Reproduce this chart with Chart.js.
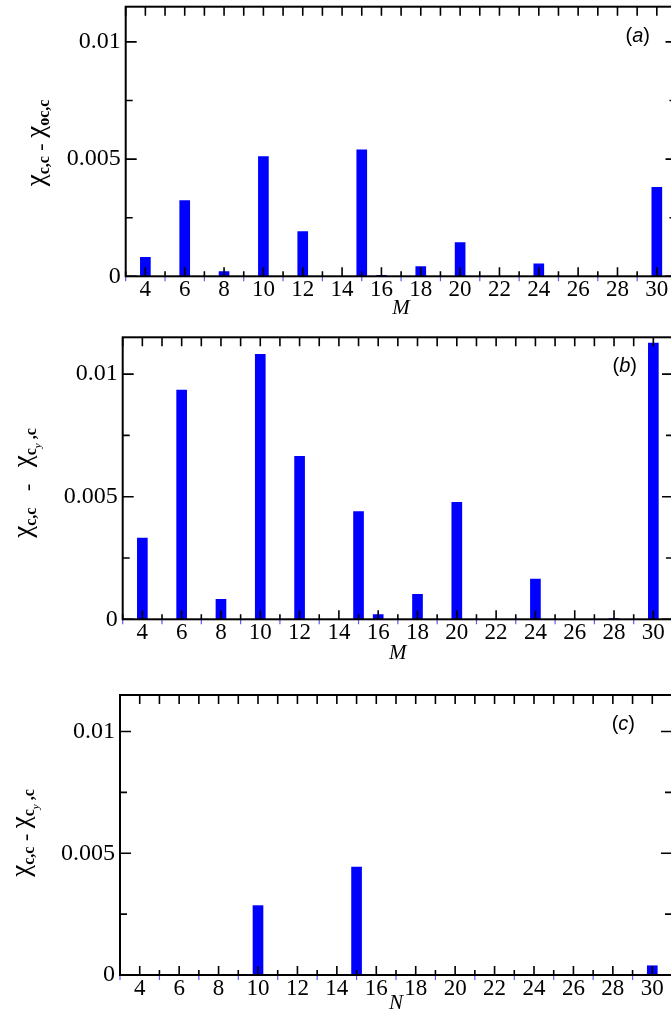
<!DOCTYPE html>
<html>
<head>
<meta charset="utf-8">
<script src="https://cdn.jsdelivr.net/npm/chart.js@4.4.0/dist/chart.umd.min.js"></script>
<style>
    body { margin: 0; background: #fff; overflow: hidden; width: 671px; height: 1021px; position: relative; }
    canvas { position: absolute; left: 0; }
</style>
</head>
<body>
<canvas id="chartA" width="700" height="320" style="top:0px"></canvas>
<canvas id="chartB" width="700" height="345" style="top:320px"></canvas>
<canvas id="chartC" width="700" height="350" style="top:665px"></canvas>
<script>
// system sizes M (and N for the last panel)
var sizes = [4, 6, 8, 10, 12, 15, 16, 18, 20, 22, 24, 26, 28, 30];
var xTicks = [4, 6, 8, 10, 12, 14, 16, 18, 20, 22, 24, 26, 28, 30];
var yTicks = [0, 0.005, 0.01];
var yMinorTicks = [0.0025, 0.0075];

var diffA = [0.00081, 0.00323, 0.0002, 0.00511, 0.00191, 0.0054, 0.00004, 0.00041, 0.00144, 0, 0.00053, 0, 0, 0.00379];
var diffB = [0.00331, 0.00935, 0.00081, 0.01081, 0.00665, 0.00439, 0.00019, 0.00102, 0.00477, 0, 0.00164, 0, 0.00003, 0.01126];
var diffC = [0, 0, 0, 0.00285, 0, 0.00443, 0, 0, 0, 0, 0, 0, 0, 0.00038];

var serif = '"Liberation Serif", "Times New Roman", serif';
var sans = '"Liberation Sans", Arial, sans-serif';

function textWidth(ctx, parts){
    let w = 0;
    parts.forEach(function(p){
        ctx.font = p.font;
        w += ctx.measureText(p.text).width;
    });
    return w;
}

function drawParts(ctx, parts, x, y){
    let cx = x;
    parts.forEach(function(p){
        ctx.font = p.font;
        ctx.fillText(p.text, cx, y + (p.dy || 0));
        cx += ctx.measureText(p.text).width;
    });
}

// frame, inward ticks, rotated y title and the panel letter
var decorations = {
    id: 'decorations',
    afterDatasetsDraw: function(chart, args, opts){
        var ctx = chart.ctx;
        var area = chart.chartArea;
        var xs = chart.scales.x;
        var ys = chart.scales.y;
        ctx.save();

        ctx.strokeStyle = '#000';
        ctx.lineWidth = 1.6;
        ctx.beginPath();
        for(let v = 3; v <= 31; v++){
            let px = xs.getPixelForValue(v);
            let major = v % 2 === 0;
            ctx.moveTo(px, area.bottom);
            ctx.lineTo(px, area.bottom - (major ? 9 : 5));
            ctx.moveTo(px, area.top);
            ctx.lineTo(px, area.top + 9);
        }
        yTicks.concat(yMinorTicks).forEach(function(v){
            let py = ys.getPixelForValue(v);
            let len = yTicks.indexOf(v) >= 0 ? 11 : 7;
            ctx.moveTo(area.left, py);
            ctx.lineTo(area.left + len, py);
            ctx.moveTo(area.right, py);
            ctx.lineTo(area.right - len, py);
        });
        ctx.stroke();

        ctx.strokeStyle = '#5a5aff';
        ctx.lineWidth = 1.2;
        ctx.beginPath();
        for(let v = 3; v <= 31; v += 2){
            let px = xs.getPixelForValue(v);
            ctx.moveTo(px, area.bottom);
            ctx.lineTo(px, area.bottom + 5);
        }
        ctx.stroke();

        ctx.strokeStyle = '#000';
        ctx.lineWidth = 2;
        ctx.strokeRect(area.left, area.top, area.right - area.left, area.bottom - area.top);

        ctx.fillStyle = '#000';
        ctx.textBaseline = 'alphabetic';
        ctx.textAlign = 'left';

        ctx.save();
        ctx.translate(opts.titleX, opts.titleY);
        ctx.rotate(-Math.PI / 2);
        drawParts(ctx, opts.title, -textWidth(ctx, opts.title) / 2, 0);
        ctx.restore();

        ctx.textBaseline = 'middle';
        drawParts(ctx, opts.tag, opts.tagX - textWidth(ctx, opts.tag), opts.tagY);

        ctx.restore();
    }
};

function chi(sub, gap){
    var parts = [
        {text: 'χ', font: '27px ' + serif},
        {text: 'c,c', font: 'bold 16px ' + serif, dy: 5},
        {text: gap + '-' + gap, font: '22px ' + serif, dy: 3},
        {text: 'χ', font: '27px ' + serif}
    ];
    return parts.concat(sub);
}

function tag(letter){
    return [
        {text: '(', font: '20px ' + sans},
        {text: letter, font: 'italic 20px ' + sans},
        {text: ')', font: '20px ' + sans}
    ];
}

function makePanel(id, values, axisName, box, deco){
    new Chart(document.getElementById(id), {
        type: 'bar',
        data: {
            datasets: [{
                data: sizes.map(function(m, i){ return {x: m, y: values[i]}; }),
                backgroundColor: '#0000ff',
                borderWidth: 0,
                barThickness: 10
            }]
        },
        plugins: [decorations],
        options: {
            responsive: false,
            animation: false,
            layout: {
                padding: {top: box.top, left: 0, right: box.right, bottom: 0}
            },
            plugins: {
                legend: {display: false},
                tooltip: {enabled: false},
                decorations: deco
            },
            scales: {
                x: {
                    type: 'linear',
                    min: 3,
                    max: 31,
                    offset: false,
                    grid: {display: false, drawTicks: false},
                    border: {display: false},
                    afterBuildTicks: function(s){ s.ticks = xTicks.map(function(v){ return {value: v}; }); },
                    afterFit: function(s){
                        s.height = box.xHeight;
                        s.paddingLeft = 0;
                        s.paddingRight = 0;
                    },
                    ticks: {
                        color: '#000',
                        padding: 0,
                        maxRotation: 0,
                        autoSkip: false,
                        font: {family: serif, size: 23},
                        callback: function(v){ return String(v); }
                    },
                    title: {
                        display: true,
                        text: axisName,
                        color: '#000',
                        padding: {top: 0, bottom: 1},
                        font: {family: serif, size: 21, style: 'italic', lineHeight: 1}
                    }
                },
                y: {
                    min: 0,
                    max: 0.0115,
                    grid: {display: false, drawTicks: false},
                    border: {display: false},
                    afterBuildTicks: function(s){ s.ticks = yTicks.map(function(v){ return {value: v}; }); },
                    afterFit: function(s){
                        s.width = box.left;
                        s.paddingTop = 0;
                        s.paddingBottom = 0;
                    },
                    ticks: {
                        color: '#000',
                        padding: 5,
                        font: {family: serif, size: 24},
                        callback: function(v){ return String(v); }
                    }
                }
            }
        }
    });
}

var subOc = [{text: 'oc,c', font: 'bold 16px ' + serif, dy: 5}];
var subCy = [
    {text: 'c', font: 'bold 16px ' + serif, dy: 5},
    {text: 'y', font: 'italic 11px ' + serif, dy: 10},
    {text: ' ,c', font: 'bold 16px ' + serif, dy: 5}
];

makePanel('chartA', diffA, 'M',
    {top: 6.7, left: 125.7, right: 23.5, xHeight: 43.7},
    {title: chi(subOc, ' '), titleX: 44, titleY: 143, tag: tag('a'), tagX: 650, tagY: 36});

makePanel('chartB', diffB, 'M',
    {top: 17.3, left: 122.7, right: 27, xHeight: 45.7},
    {title: chi(subCy, '   '), titleX: 31, titleY: 163, tag: tag('b'), tagX: 637, tagY: 46});

makePanel('chartC', diffC, 'N',
    {top: 30, left: 120, right: 28, xHeight: 40},
    {title: chi(subCy, ' '), titleX: 29, titleY: 168, tag: tag('c'), tagX: 635, tagY: 59});
</script>
</body>
</html>
